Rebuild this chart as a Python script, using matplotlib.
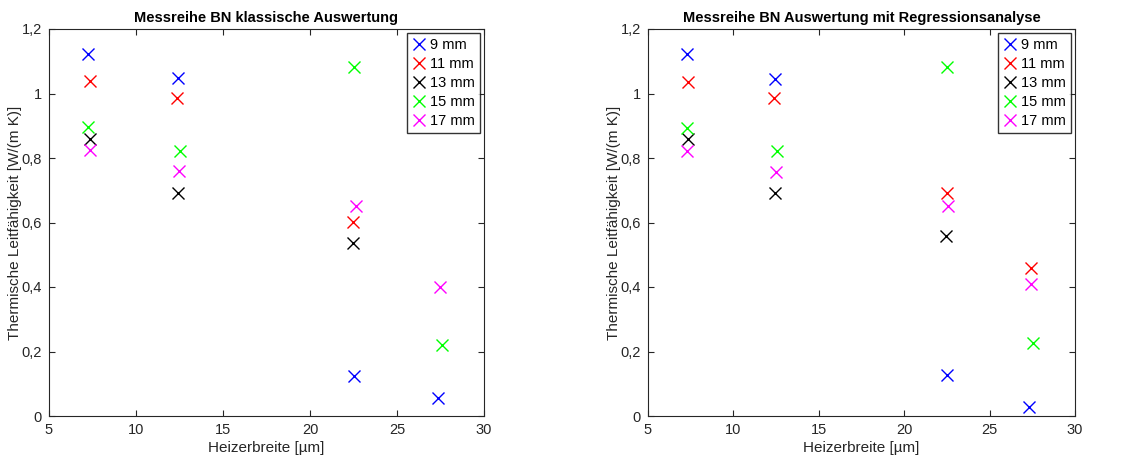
import matplotlib
matplotlib.use('Agg')
import matplotlib.pyplot as plt
from matplotlib.ticker import FuncFormatter

plt.rcParams['font.family'] = ['Liberation Sans', 'DejaVu Sans']

# Reihen (Abstand) und Farben
labels = ['9 mm', '11 mm', '13 mm', '15 mm', '17 mm']
colors = ['#0000ff', '#ff0000', '#000000', '#00ff00', '#ff00ff']

# klassische Auswertung
x_klass = [
    [7.26, 12.43, 22.53, 27.34],
    [7.36, 12.34, 22.45],
    [7.36, 12.43, 22.45],
    [7.26, 12.53, 22.53, 27.6],
    [7.36, 12.5, 22.62, 27.47],
]
y_klass = [
    [1.122, 1.047, 0.125, 0.057],
    [1.038, 0.987, 0.603],
    [0.858, 0.693, 0.535],
    [0.897, 0.822, 1.083, 0.220],
    [0.825, 0.759, 0.652, 0.401],
]

# Auswertung mit Regressionsanalyse
x_regr = [
    [7.28, 12.44, 22.52, 27.32],
    [7.33, 12.36, 22.48, 27.4],
    [7.33, 12.44, 22.45],
    [7.28, 12.55, 22.52, 27.55],
    [7.3, 12.51, 22.58, 27.4],
]
y_regr = [
    [1.121, 1.045, 0.128, 0.029],
    [1.037, 0.987, 0.693, 0.46],
    [0.858, 0.693, 0.558],
    [0.894, 0.822, 1.082, 0.225],
    [0.822, 0.758, 0.651, 0.409],
]

titles = ['Messreihe BN klassische Auswertung',
          'Messreihe BN Auswertung mit Regressionsanalyse']

W, H = 1127, 459
fig = plt.figure(figsize=(W / 100, H / 100), dpi=100)
ax1 = fig.add_axes([49 / W, 1 - 416 / H, (484 - 49) / W, (416 - 29) / H])
ax2 = fig.add_axes([648 / W, 1 - 416 / H, (1075 - 648) / W, (416 - 29) / H])

komma = FuncFormatter(lambda v, p: ('%g' % v).replace('.', ','))
gray = '#262626'

for ax, xs, ys, title in [(ax1, x_klass, y_klass, titles[0]),
                          (ax2, x_regr, y_regr, titles[1])]:
    for xv, yv, c, lab in zip(xs, ys, colors, labels):
        ax.plot(xv, yv, 'x', color=c, markersize=9, markeredgewidth=1.0,
                linestyle='none', label=lab)
    ax.set_xlim(5, 30)
    ax.set_ylim(0, 1.2)
    ax.set_xticks([5, 10, 15, 20, 25, 30])
    ax.set_yticks([0, 0.2, 0.4, 0.6, 0.8, 1.0, 1.2])
    ax.yaxis.set_major_formatter(komma)
    ax.tick_params(direction='in', top=True, right=True, labelsize=10.5,
                   colors=gray, length=4, width=0.8, pad=5)
    for s in ax.spines.values():
        s.set_color(gray)
        s.set_linewidth(0.8)
    ax.set_title(title, fontsize=10.5, fontweight='bold', pad=5)
    ax.set_xlabel('Heizerbreite [µm]', fontsize=11, color=gray, labelpad=3)
    ax.set_ylabel('Thermische Leitfähigkeit [W/(m K)]', fontsize=11,
                  color=gray, labelpad=0)
    leg = ax.legend(loc='upper right', fontsize=10.5, frameon=True, fancybox=False,
                    handlelength=1.0, handletextpad=0.3, borderpad=0.3,
                    labelspacing=0.35, borderaxespad=0.3)
    leg.get_frame().set_edgecolor('black')
    leg.get_frame().set_linewidth(1.0)

fig.savefig('out.png', dpi=100)
